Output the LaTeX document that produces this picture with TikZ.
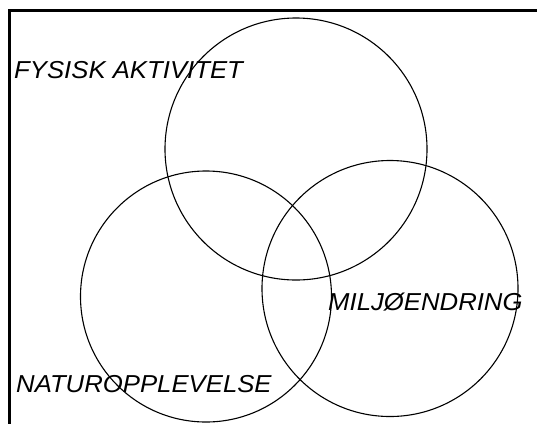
\documentclass[tikz,border=0pt]{standalone}
\usepackage{fontspec}
\usepackage{tikz}
\usetikzlibrary{positioning}
\newfontfamily\etikettfont{Liberation Sans}[FakeStretch=1.05]
\tikzset{
  sirkel/.style={circle, draw=black, line width=1.1pt, inner sep=0pt},
  etikett/.style={font=\etikettfont\itshape\fontsize{24.5}{28}\selectfont,
    anchor=base west, inner sep=0pt},
  ramme/.style={line width=3pt, draw=black}
}
\begin{document}
\begin{tikzpicture}[x=1pt, y=-1pt]
    \useasboundingbox (0,0) rectangle (537,424);
    % Ramme (bare topp og venstre side)
    \draw[ramme] (537,10.5) -- (9.5,10.5) -- (9.5,424);

    % De tre sirklene
    \node[sirkel, minimum size=262pt] (fysisk) at (296,149) {};
    \node[sirkel, minimum size=251pt] (natur) at (206,296.5) {};
    \node[sirkel, minimum size=256pt] (miljo) at (390,288.5) {};

    % Etiketter
    \node[etikett] (tfysisk) at (14,78) {FYSISK AKTIVITET};
    \node[etikett] (tmiljo) at (328,310) {MILJØENDRING};
    \node[etikett] (tnatur) at (16,392) {NATUROPPLEVELSE};
\end{tikzpicture}
\end{document}
